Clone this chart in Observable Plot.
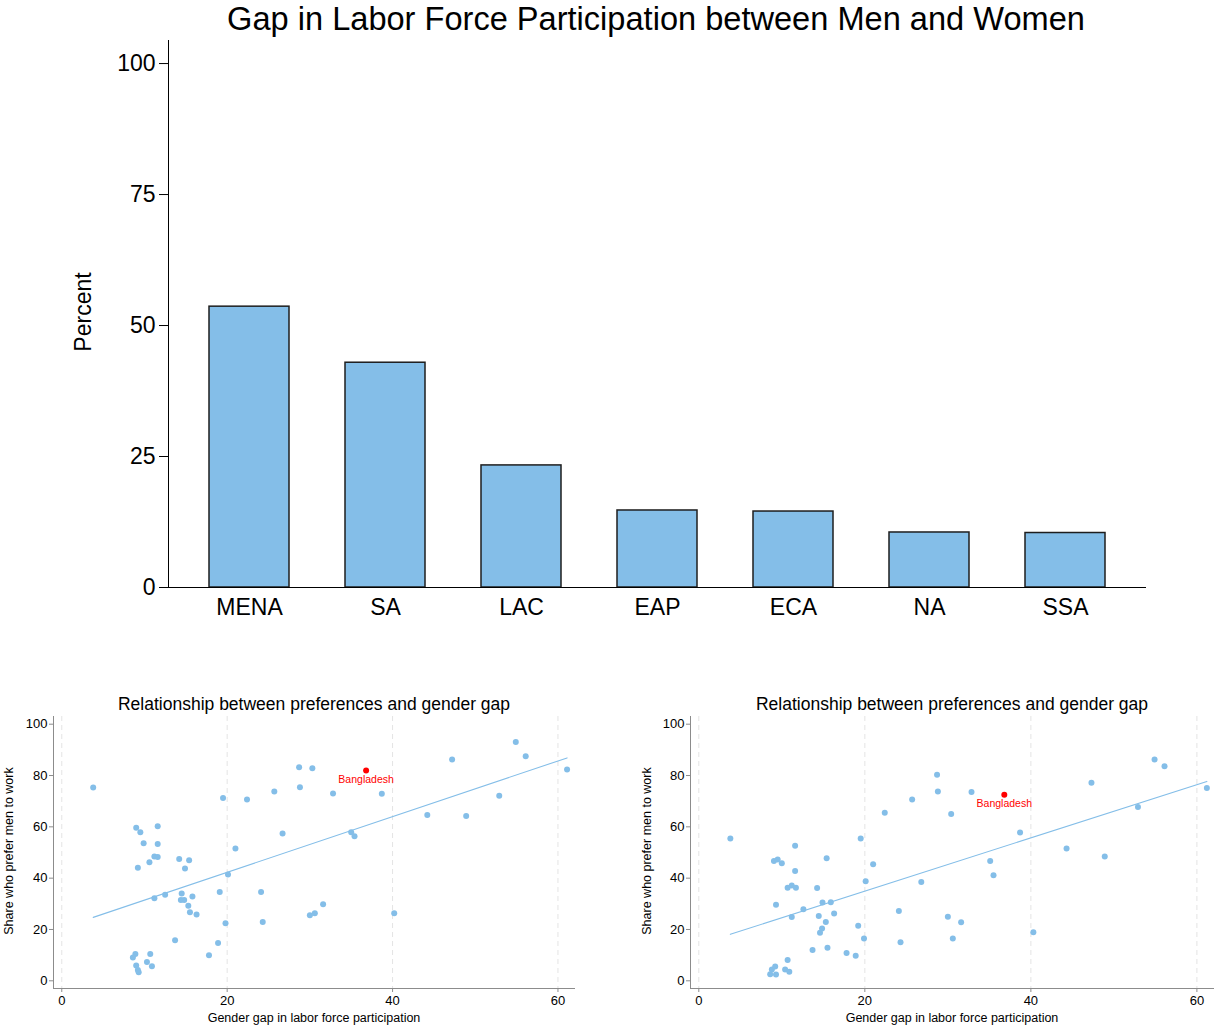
<!DOCTYPE html>
<html><head><meta charset="utf-8">
<script src="https://cdn.jsdelivr.net/npm/d3@7"></script>
<script src="https://cdn.jsdelivr.net/npm/@observablehq/plot@0.6"></script>
<style>
body{margin:0;background:#fff;font-family:"Liberation Sans",Arial,Helvetica,sans-serif;}
#root{position:relative;width:1225px;height:1030px;overflow:hidden;background:#fff;}
.p{position:absolute;}
.t{position:absolute;white-space:nowrap;color:#000;line-height:1.2;transform:translate(-50%,-50%);}
</style></head><body><div id="root"></div>
<script>
// ---- Top chart data ----
const regions = ["MENA","SA","LAC","EAP","ECA","NA","SSA"];
const regionGap = [53.6, 42.9, 23.3, 14.7, 14.5, 10.5, 10.4];
const barTicks = [0, 25, 50, 75, 100];

// ---- Scatter data (left panel) ----
const leftGap = [3.8, 9.0, 9.5, 9.9, 11.6, 11.6, 11.2, 11.6, 10.6, 9.2, 14.2, 15.4, 14.9, 11.2, 12.5, 14.5, 14.4, 14.8, 15.8, 15.3, 15.5, 16.3, 13.7, 8.9, 8.6, 9.0, 10.7, 10.3, 10.9, 9.2, 9.3, 17.8, 18.9, 19.5, 22.4, 21.0, 20.1, 19.1, 19.8, 24.1, 24.3, 25.7, 26.7, 28.7, 28.8, 30.3, 30.0, 30.6, 31.6, 32.8, 38.7, 35.0, 35.4, 40.2, 44.2, 47.2, 48.9, 52.9, 54.9, 56.1, 61.1];
const leftShare = [75.3, 59.6, 57.9, 53.6, 60.2, 53.3, 48.4, 48.2, 46.2, 44.1, 47.5, 47.0, 43.8, 32.2, 33.5, 34.0, 31.5, 31.5, 32.9, 29.2, 26.7, 25.8, 15.8, 10.4, 9.1, 6.0, 10.4, 7.3, 5.7, 4.2, 3.3, 10.0, 14.7, 71.2, 70.7, 51.6, 41.4, 34.6, 22.4, 34.6, 22.9, 73.8, 57.4, 83.2, 75.4, 82.8, 25.5, 26.3, 29.8, 73.0, 72.9, 57.9, 56.3, 26.3, 64.6, 86.2, 64.2, 72.1, 93.1, 87.5, 82.3];

// ---- Scatter data (right panel) ----
const rightGap = [3.8, 9.05, 9.5, 10.0, 11.6, 11.6, 10.7, 11.2, 11.7, 9.3, 11.2, 12.6, 14.25, 15.4, 14.9, 15.9, 16.3, 14.45, 15.3, 14.85, 14.6, 13.7, 15.5, 17.8, 18.9, 10.7, 8.6, 8.8, 9.2, 9.3, 10.4, 10.9, 19.5, 20.1, 21.0, 22.4, 19.2, 19.9, 25.7, 26.8, 24.1, 24.3, 28.7, 28.8, 30.4, 30.0, 30.6, 32.85, 38.7, 35.1, 35.5, 31.6, 40.3, 44.3, 47.3, 48.9, 52.9, 54.9, 56.1, 61.2];
const rightShare = [55.5, 46.7, 47.3, 45.8, 52.6, 42.8, 36.3, 37.1, 36.3, 29.6, 24.9, 27.9, 36.2, 47.8, 30.5, 30.6, 26.2, 25.3, 22.9, 20.4, 18.75, 12.0, 12.9, 10.8, 9.8, 8.1, 2.6, 4.4, 5.6, 2.5, 4.4, 3.5, 55.5, 38.8, 45.4, 65.5, 21.5, 16.5, 70.7, 38.5, 27.2, 15.0, 80.3, 73.8, 65.0, 25.0, 16.5, 73.6, 57.8, 46.7, 41.1, 22.8, 18.9, 51.6, 77.2, 48.4, 67.7, 86.2, 83.6, 75.1];

// ---- Highlighted country ----
const highlightName = "Bangladesh";
const highlightGap = 36.8;
const leftHighlightShare = 82.0;
const rightHighlightShare = 72.5;

const scatterXTicks = [0, 20, 40, 60];
const scatterYTicks = [0, 20, 40, 60, 80, 100];

const mainTitle = "Gap in Labor Force Participation between Men and Women";
const barYLabel = "Percent";
const scatterTitle = "Relationship between preferences and gender gap";
const scatterXLabel = "Gender gap in labor force participation";
const scatterYLabel = "Share who prefer men to work";

const BLUE = "#84bee8";
const AXIS_GREY = "#8c8c8c";
const FONT = '"Liberation Sans", Arial, Helvetica, sans-serif';
const root = document.getElementById("root");

function place(node, left, top) {
  node.classList.add("p");
  node.style.left = left + "px";
  node.style.top = top + "px";
  root.appendChild(node);
}
function label(text, cx, cy, size, rotate, lineHeight) {
  const d = document.createElement("div");
  d.className = "t";
  d.textContent = text;
  d.style.left = cx + "px";
  d.style.top = cy + "px";
  d.style.fontSize = size + "px";
  if (lineHeight) d.style.lineHeight = lineHeight;
  if (rotate) d.style.transform = "translate(-50%,-50%) rotate(-90deg)";
  root.appendChild(d);
}

// ---- Top bar chart ----
const barData = regions.map((r, i) => ({region: r, gap: regionGap[i]}));
const bar = Plot.plot({
  width: 1225, height: 640,
  marginTop: 40, marginBottom: 53, marginLeft: 168, marginRight: 80,
  style: {fontFamily: FONT, color: "#000", background: "transparent"},
  x: {domain: regions, paddingInner: 0.412, paddingOuter: 0.294},
  y: {domain: [0, 104.4]},
  marks: [
    Plot.barY(barData, {x: "region", y: "gap", fill: BLUE, stroke: "#1e1e1e", strokeWidth: 1.5}),
    Plot.frame({anchor: "left", stroke: "#000"}),
    Plot.frame({anchor: "bottom", stroke: "#000"}),
    Plot.axisY({ticks: barTicks, tickSize: 9, tickPadding: 4, fontSize: 23, label: null, stroke: "#000"}),
    Plot.axisX({tickSize: 0, tickPadding: 11, fontSize: 23, label: null})
  ]
});
place(bar, 0, 0);
label(mainTitle, 656, 19, 32.6, false, "1");
label(barYLabel, 84, 312, 23, true);

// ---- Scatter panels ----
function scatter(gaps, shares, hiShare, width, ml, mr) {
  const rows = gaps.map((g, i) => ({gap: g, share: shares[i], hi: false, name: ""}));
  rows.push({gap: highlightGap, share: hiShare, hi: true, name: highlightName});
  return Plot.plot({
    width, height: 318,
    marginTop: 4, marginBottom: 42, marginLeft: ml, marginRight: mr,
    style: {fontFamily: FONT, color: "#000", background: "transparent"},
    x: {domain: [-1, 62]},
    y: {domain: [-3, 103]},
    marks: [
      Plot.ruleX(scatterXTicks, {stroke: "#e4e4e4", strokeDasharray: "5,4", strokeWidth: 1}),
      Plot.frame({anchor: "left", stroke: AXIS_GREY}),
      Plot.frame({anchor: "bottom", stroke: AXIS_GREY}),
      Plot.axisY({ticks: scatterYTicks, tickSize: 4, tickPadding: 2, fontSize: 13, label: null, stroke: AXIS_GREY}),
      Plot.axisX({ticks: scatterXTicks, tickSize: 4, tickPadding: 3, fontSize: 13, label: null, stroke: AXIS_GREY}),
      Plot.dot(rows.filter(d => !d.hi), {x: "gap", y: "share", r: 3, fill: BLUE, stroke: "none"}),
      Plot.linearRegressionY(rows, {x: "gap", y: "share", stroke: BLUE, strokeWidth: 1.1, ci: 0}),
      Plot.dot(rows.filter(d => d.hi), {x: "gap", y: "share", r: 3, fill: "#ff0000", stroke: "none"}),
      Plot.text(rows.filter(d => d.hi), {x: "gap", y: "share", text: "name", dy: 9, fill: "#ff0000", fontSize: 10.5})
    ]
  });
}
place(scatter(leftGap, leftShare, leftHighlightShare, 612, 53, 38), 0, 712);
place(scatter(rightGap, rightShare, rightHighlightShare, 587, 52, 12), 638, 712);

label(scatterTitle, 314, 704, 17.5);
label(scatterTitle, 952, 704, 17.5);
label(scatterXLabel, 314, 1018, 12.5);
label(scatterXLabel, 952, 1018, 12.5);
label(scatterYLabel, 9, 851, 12.5, true);
label(scatterYLabel, 647, 851, 12.5, true);
</script>
</body></html>
